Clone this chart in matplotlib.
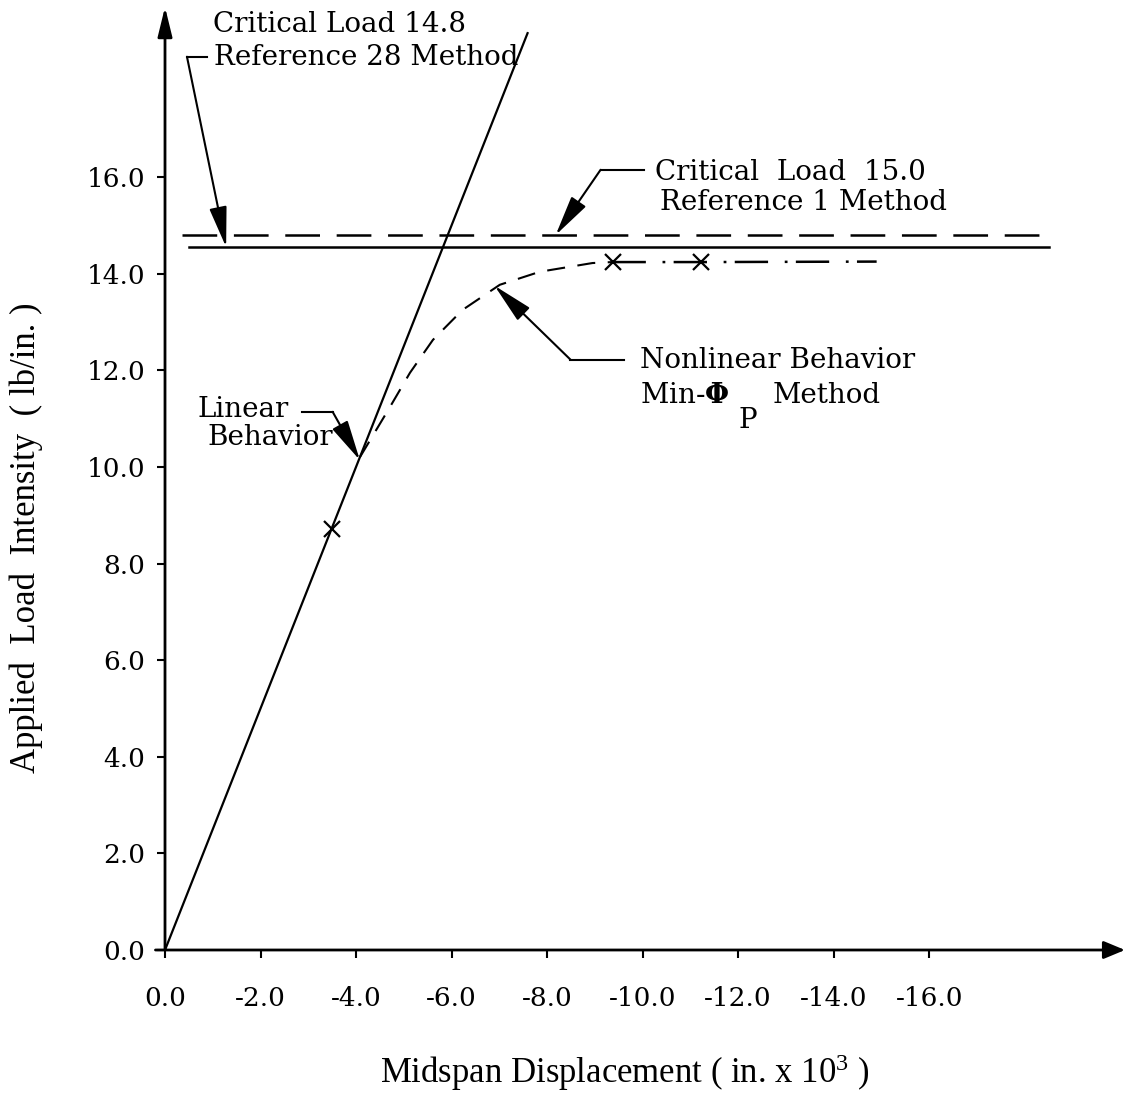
import matplotlib
matplotlib.use('Agg')
import matplotlib.pyplot as plt

# ---------------- data ----------------
x_ticks = [0, -2, -4, -6, -8, -10, -12, -14, -16]
x_tick_labels = ["0.0", "-2.0", "-4.0", "-6.0", "-8.0", "-10.0", "-12.0", "-14.0", "-16.0"]
y_ticks = [0, 2, 4, 6, 8, 10, 12, 14, 16]
y_tick_labels = ["0.0", "2.0", "4.0", "6.0", "8.0", "10.0", "12.0", "14.0", "16.0"]

linear_x = [0.0, -7.6]
linear_y = [0.0, 19.0]

crit28_x = [-0.5, -18.5]
crit28_y = [14.55, 14.55]

crit1_x = [-0.35, -18.5]
crit1_y = [14.8, 14.8]

nonlin_x = [-4.08, -4.71, -5.13, -5.61, -6.23, -7.01, -7.85, -8.95, -9.37]
nonlin_y = [10.20, 11.24, 11.95, 12.63, 13.25, 13.77, 14.04, 14.22, 14.24]

tail_x = [-9.37, -11.23, -14.9]
tail_y = [14.24, 14.24, 14.25]

marker_x = [-3.49, -9.37, -11.23]
marker_y = [8.72, 14.24, 14.24]

# ---------------- figure ----------------
plt.rcParams['lines.scale_dashes'] = False
plt.rcParams['font.family'] = ['DejaVu Serif', 'DejaVu Sans']
plt.rcParams['mathtext.fontset'] = 'dejavuserif'

fig = plt.figure(figsize=(11.25, 10.95), dpi=100)
ax = fig.add_axes([0.14667, 0.13242, 0.85333, 0.86119])
XMAX = -20.1
YMAX = 19.52
ax.set_xlim(0, XMAX)
ax.set_ylim(0, YMAX)
for s in ax.spines.values():
    s.set_visible(False)

# axes with arrows
ax.annotate('', xy=(0, YMAX), xytext=(0, 0),
            arrowprops=dict(arrowstyle='-|>,head_length=0.9,head_width=0.22',
                            mutation_scale=20, lw=2.0, color='black',
                            shrinkA=0, shrinkB=0), annotation_clip=False)
ax.annotate('', xy=(XMAX, 0), xytext=(0.2, 0),
            arrowprops=dict(arrowstyle='-|>,head_length=0.65,head_width=0.27',
                            mutation_scale=20, lw=2.0, color='black',
                            shrinkA=0, shrinkB=0), annotation_clip=False)

ax.set_xticks(x_ticks)
ax.set_xticklabels(x_tick_labels)
ax.set_yticks(y_ticks)
ax.set_yticklabels(y_tick_labels)
ax.tick_params(axis='x', direction='out', length=6, width=1.5, pad=20, labelsize=19)
ax.tick_params(axis='y', direction='out', length=6, width=1.5, pad=8, labelsize=19)

# data lines
ax.plot(linear_x, linear_y, color='black', lw=1.6, solid_capstyle='butt')
ax.plot(crit28_x, crit28_y, color='black', lw=1.8)
ax.plot(crit1_x, crit1_y, color='black', lw=1.8, dashes=(25, 12))
ax.plot(nonlin_x, nonlin_y, color='black', lw=1.5, dashes=(13, 9))
ax.plot(tail_x, tail_y, color='black', lw=1.8, dashes=(24, 12, 2, 6))
ax.plot(marker_x, marker_y, linestyle='none', marker='x', markersize=12,
        markeredgewidth=1.6, color='black')

# annotations
arrow_style = dict(arrowstyle='-|>,head_length=1.25,head_width=0.27',
                   mutation_scale=20, lw=1.5, color='black',
                   shrinkA=0, shrinkB=0)
fs = 20

# Critical Load 14.8
ax.text(-1.0, 19.0, "Critical Load 14.8", fontsize=fs, ha='left', va='baseline')
ax.text(-1.02, 18.32, "Reference 28 Method", fontsize=fs, ha='left', va='baseline')
ax.plot([-0.88, -0.46], [18.49, 18.49], color='black', lw=1.5)
ax.annotate('', xy=(-1.28, 14.55), xytext=(-0.46, 18.49), arrowprops=arrow_style)

# Critical Load 15.0
ax.text(-10.25, 15.94, "Critical  Load  15.0", fontsize=fs, ha='left', va='baseline')
ax.text(-10.36, 15.32, "Reference 1 Method", fontsize=fs, ha='left', va='baseline')
ax.plot([-10.02, -9.12], [16.15, 16.15], color='black', lw=1.5)
ax.annotate('', xy=(-8.18, 14.8), xytext=(-9.12, 16.15), arrowprops=arrow_style)

# Nonlinear behavior
ax.text(-9.94, 12.05, "Nonlinear Behavior", fontsize=fs, ha='left', va='baseline')
ax.text(-9.94, 11.33, r"Min-$\mathbf{\Phi}$", fontsize=fs, ha='left', va='baseline')
ax.text(-12.0, 10.81, "P", fontsize=fs, ha='left', va='baseline')
ax.text(-12.72, 11.33, "Method", fontsize=fs, ha='left', va='baseline')
ax.plot([-9.62, -8.49], [12.22, 12.22], color='black', lw=1.5)
ax.annotate('', xy=(-6.90, 13.75), xytext=(-8.49, 12.22), arrowprops=arrow_style)

# Linear behavior
ax.text(-0.69, 11.04, "Linear", fontsize=fs, ha='left', va='baseline')
ax.text(-0.88, 10.46, "Behavior", fontsize=fs, ha='left', va='baseline')
ax.plot([-2.87, -3.51], [11.14, 11.14], color='black', lw=1.5)
ax.annotate('', xy=(-4.08, 10.14), xytext=(-3.51, 11.14), arrowprops=arrow_style)

# axis titles
fig.text(625 / 1125, 1 - 1083 / 1095,
         r"Midspan Displacement ( in. x 10$\mathregular{^{3}}$ )",
         fontsize=25, family='Liberation Serif', ha='center', va='baseline')
fig.text(26 / 1125, 1 - 538 / 1095, "Applied  Load  Intensity  ( lb/in. )",
         fontsize=25, family='Liberation Serif', rotation=90, ha='center', va='center')

fig.savefig('out.png', dpi=100, facecolor='white')
